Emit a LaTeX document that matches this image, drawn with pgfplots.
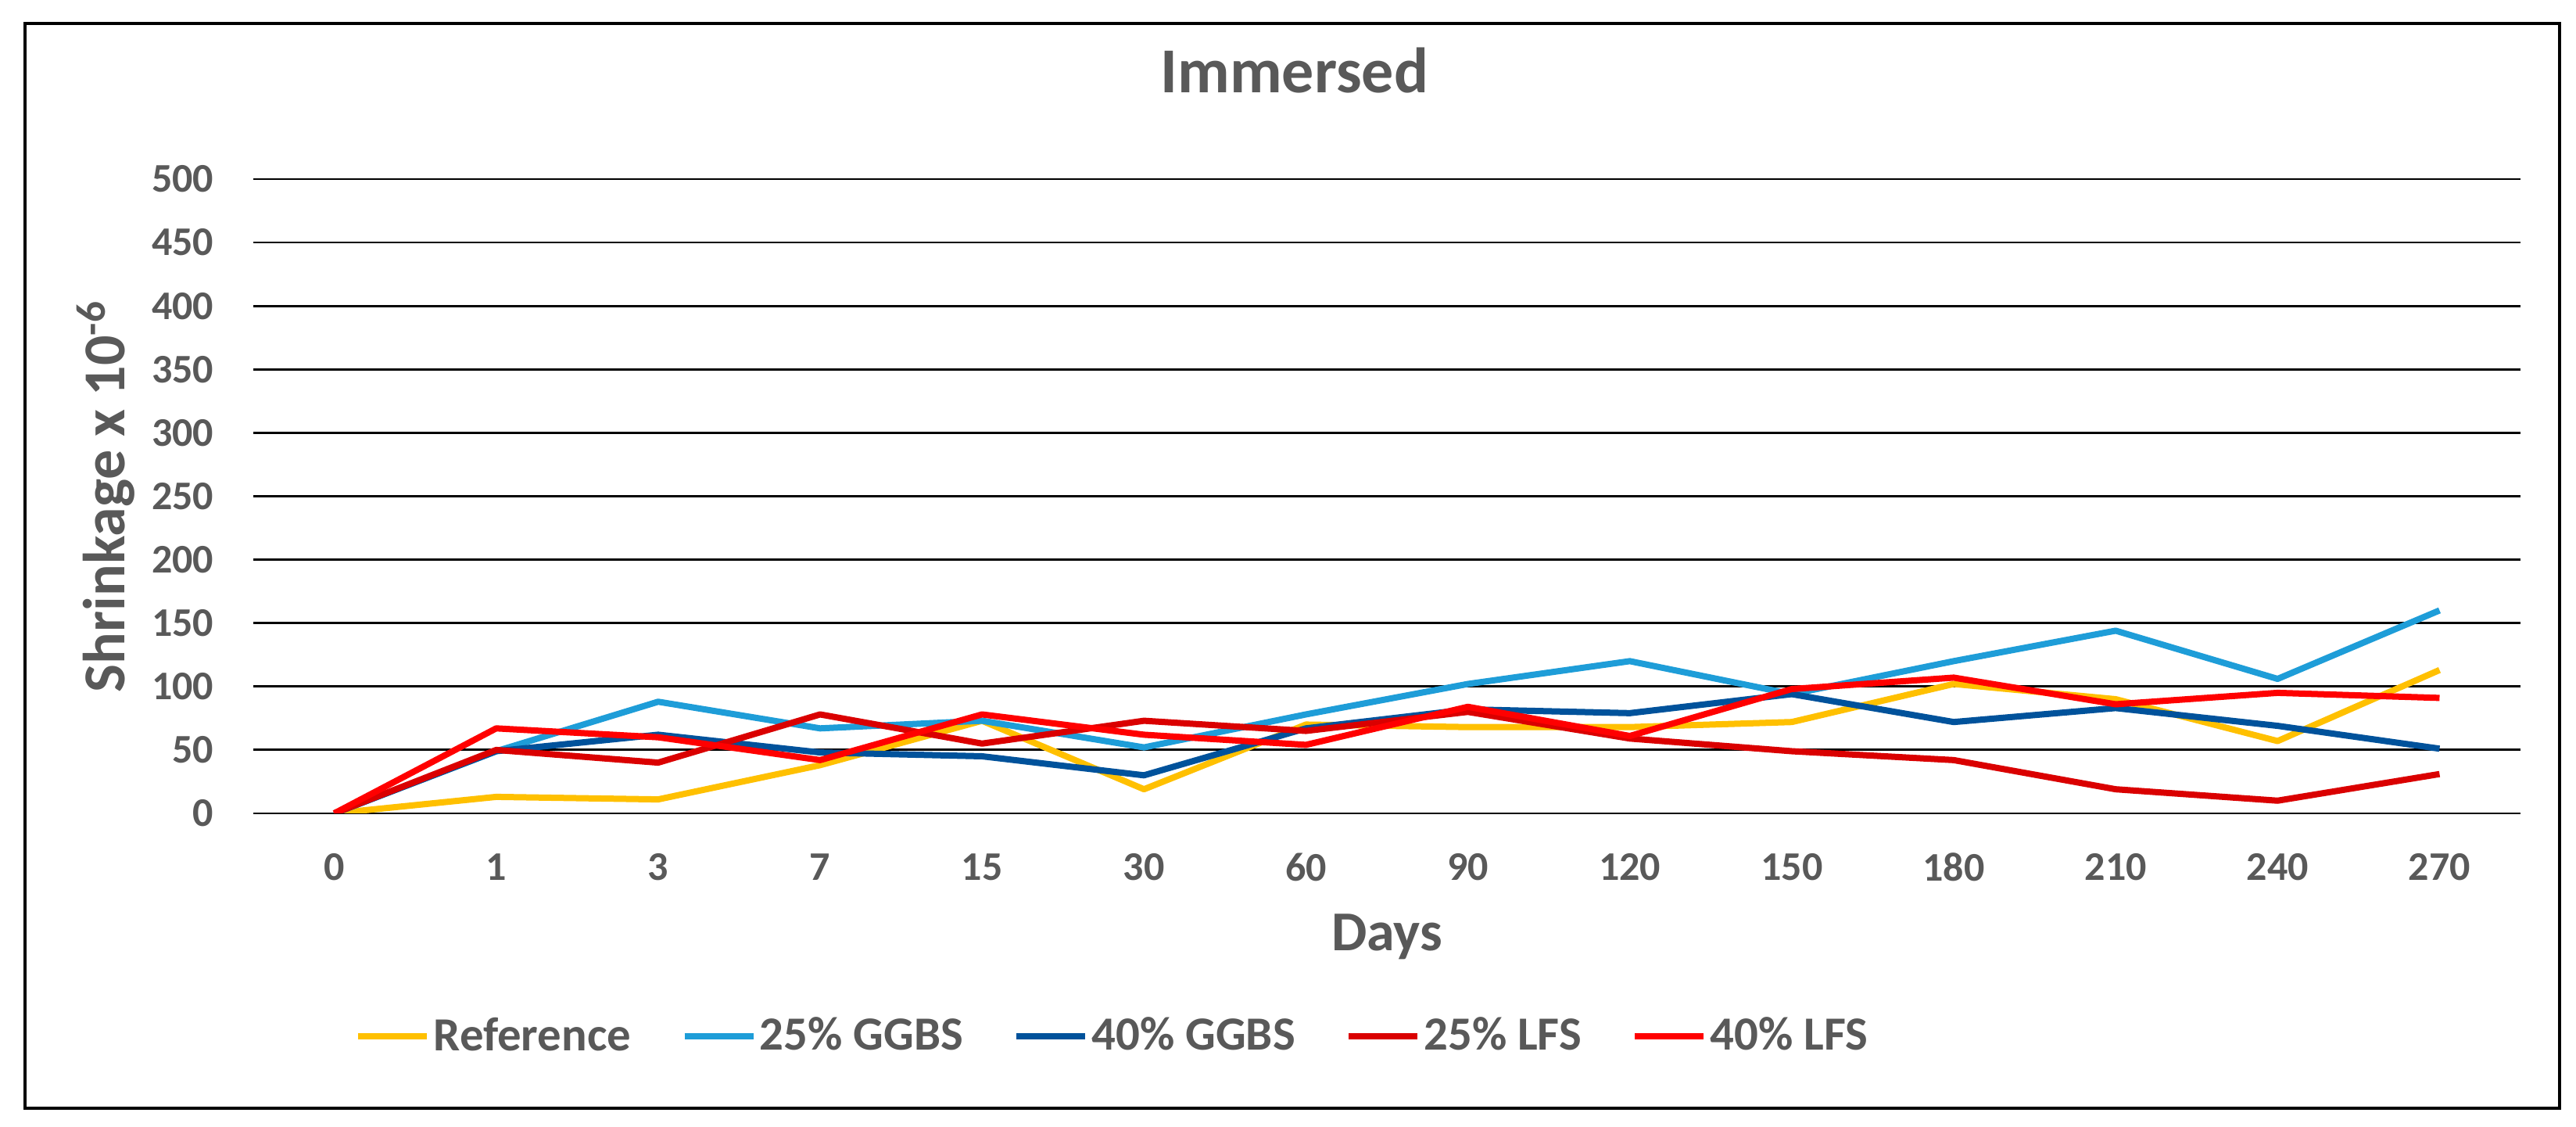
\documentclass[border=0pt]{standalone}
\usepackage{pgfplots}
\pgfplotsset{compat=1.18}
\usepackage{fontspec}
\setmainfont{Carlito}
\definecolor{txtgray}{RGB}{89,89,89}
\definecolor{cRef}{RGB}{255,192,0}
\definecolor{cG25}{RGB}{30,157,216}
\definecolor{cG40}{RGB}{0,82,155}
\definecolor{cL25}{RGB}{218,0,0}
\definecolor{cL40}{RGB}{255,0,0}
\begin{document}
\begin{tikzpicture}
\useasboundingbox (0,0) rectangle (823.75pt,360.25pt);
\draw[black, line width=0.8pt] (8pt,6pt) rectangle (818.5pt,352.75pt);
\begin{axis}[
  at={(81pt,100.25pt)}, anchor=south west,
  scale only axis, width=725pt, height=202.75pt,
  xmin=-0.5, xmax=13.5, ymin=0, ymax=500,
  xtick={0,...,13},
  xticklabels={0,1,3,7,15,30,60,90,120,150,180,210,240,270},
  ytick={0,50,...,500},
  axis line style={draw=none},
  tick style={draw=none},
  ymajorgrids, major grid style={black, line width=0.7pt},
  /pgf/number format/assume math mode=true,
  ticklabel style={font=\fontsize{13}{13}\selectfont\bfseries, text=txtgray},
  yticklabel style={anchor=east, inner sep=0pt, xshift=-12.5pt},
  xticklabel style={anchor=center, inner sep=0pt, yshift=-17.25pt},
  title={Immersed},
  title style={at={(axis description cs:0.4593,1)}, anchor=base, yshift=21.5pt,
    font=\fontsize{20.5}{20.5}\selectfont\bfseries, text=txtgray, inner sep=0pt},
  xlabel={Days},
  xlabel style={at={(axis description cs:0.5,0)}, anchor=center, yshift=-39.5pt,
    font=\fontsize{18}{18}\selectfont\bfseries, text=txtgray, inner sep=0pt},
  ylabel={Shrinkage x 10\textsuperscript{-6}},
  ylabel style={at={(axis description cs:-0.0566,0.5)}, anchor=base, rotate=0,
    font=\fontsize{19}{19}\selectfont\bfseries, text=txtgray, inner sep=0pt},
  legend columns=5,
  legend style={at={(axis description cs:0.0445,-0.3514)}, anchor=west, draw=none,
    inner sep=0pt, font=\fontsize{15.2}{15.2}\selectfont\bfseries, text=txtgray,
    nodes={inner sep=1pt},
    /tikz/every even column/.append style={column sep=15pt}},
  legend image code/.code={\draw[#1, line width=2.2pt] (0pt,0pt) -- (22pt,0pt);},
  every axis plot/.append style={line width=2pt, line join=round},
]
\addplot[cRef] coordinates {(0,0) (1,13) (2,11) (3,38) (4,73) (5,19) (6,70) (7,68) (8,68) (9,72) (10,102) (11,90) (12,57) (13,113)};
\addlegendentry{Reference}
\addplot[cG25] coordinates {(0,0) (1,49) (2,88) (3,67) (4,73) (5,52) (6,78) (7,102) (8,120) (9,94) (10,120) (11,144) (12,106) (13,160)};
\addlegendentry{25\% GGBS}
\addplot[cG40] coordinates {(0,0) (1,49) (2,62) (3,48) (4,45) (5,30) (6,67) (7,82) (8,79) (9,94) (10,72) (11,83) (12,69) (13,51)};
\addlegendentry{40\% GGBS}
\addplot[cL25] coordinates {(0,0) (1,50) (2,40) (3,78) (4,55) (5,73) (6,65) (7,80) (8,59) (9,49) (10,42) (11,19) (12,10) (13,31)};
\addlegendentry{25\% LFS}
\addplot[cL40] coordinates {(0,0) (1,67) (2,60) (3,42) (4,78) (5,62) (6,54) (7,84) (8,61) (9,98) (10,107) (11,86) (12,95) (13,91)};
\addlegendentry{40\% LFS}
\end{axis}
\end{tikzpicture}
\end{document}
